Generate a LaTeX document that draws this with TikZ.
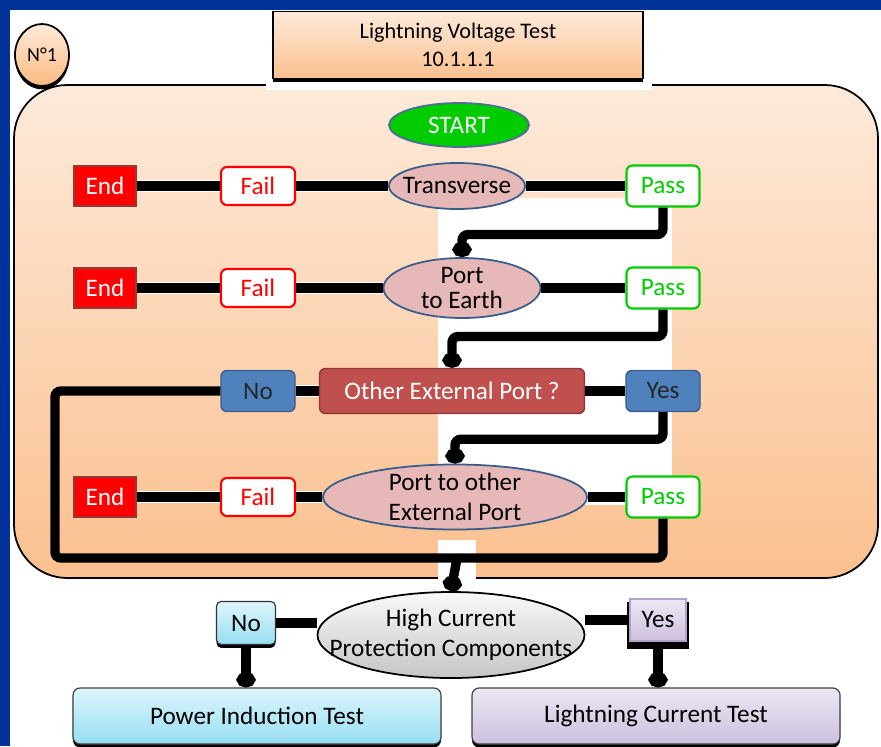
\documentclass[tikz,border=0pt]{standalone}
\usepackage{fontspec}
\setmainfont{Carlito}
\definecolor{slideblue}{RGB}{0,51,153}
\definecolor{peachtop}{RGB}{253,234,218}
\definecolor{peachbot}{RGB}{251,192,143}
\definecolor{startgreen}{RGB}{0,204,0}
\definecolor{startedge}{RGB}{79,108,154}
\definecolor{endred}{RGB}{255,0,0}
\definecolor{endedge}{RGB}{149,55,53}
\definecolor{failred}{RGB}{255,0,0}
\definecolor{passgreen}{RGB}{0,204,0}
\definecolor{ellfill}{RGB}{230,185,184}
\definecolor{elledge}{RGB}{56,93,138}
\definecolor{qblue}{RGB}{79,129,189}
\definecolor{qedge}{RGB}{56,93,138}
\definecolor{qred}{RGB}{192,80,77}
\definecolor{qrededge}{RGB}{140,56,54}
\definecolor{cyantop}{RGB}{222,246,252}
\definecolor{cyanbot}{RGB}{150,222,242}
\definecolor{lavtop}{RGB}{236,231,243}
\definecolor{lavbot}{RGB}{204,192,222}
\definecolor{lavedge}{RGB}{179,162,199}
\usetikzlibrary{arrows.meta,positioning,shapes.geometric,shadows}

\begin{document}
\begin{tikzpicture}[x=0.3mm, y=-0.3mm,
    txt/.style={font=\fontsize{21.5pt}{25pt}\selectfont},
    blackshadow/.style={drop shadow={fill=black, opacity=1, shadow xshift=0pt,
      shadow yshift=-1mm, shadow scale=1}},
    endbox/.style={txt, draw=endedge, line width=2.5pt, fill=endred, text=white,
      minimum width=18.6mm, minimum height=12mm, inner sep=0pt},
    failbox/.style={txt, draw=failred, line width=1.8pt, fill=white, text=failred,
      rounded corners=5pt, minimum width=22.2mm, minimum height=11.4mm, inner sep=0pt},
    passbox/.style={txt, draw=passgreen, line width=1.8pt, fill=white, text=passgreen,
      rounded corners=5pt, minimum width=21.9mm, minimum height=12.3mm, inner sep=0pt},
    testell/.style={txt, ellipse, draw=elledge, line width=1.5pt, fill=ellfill,
      inner sep=0pt, align=center},
    qbox/.style={txt, draw=qedge, line width=1.2pt, fill=qblue, text=black!85,
      rounded corners=5pt, minimum width=22.2mm, minimum height=12.3mm, inner sep=0pt},
    testbox/.style={txt, draw=black!75, line width=1pt, rounded corners=6pt,
      minimum width=110.4mm, minimum height=16.8mm, blackshadow},
    link/.style={line width=8pt, preaction={draw=white, line width=10.5pt}},
    elbow/.style={line width=8pt, rounded corners=5pt},
    arr/.style={elbow, -{Circle[length=13pt, width=16pt]}},
  ]
  \useasboundingbox (0,0) rectangle (881,746);
  \fill[slideblue] (0,0) rectangle (881,746);
  \fill[white] (10,10) rectangle (881,746);

  % panel of the voltage test
  \draw[line width=1.5pt, rounded corners=16mm, top color=peachtop, bottom color=peachbot]
    (14,85) rectangle (878,578);
  \fill[white] (266,10) rectangle (652,90);
  \fill[white] (438,198) rectangle (672,505);
  \fill[white] (438,540) rectangle (476,592);

  \node[ellipse, draw, line width=1.5pt, top color=peachtop, bottom color=peachbot!90!orange,
    minimum width=16.2mm, minimum height=18.6mm, inner sep=0pt, blackshadow,
    font=\fontsize{17pt}{20pt}\selectfont] (num) at (42,55) {N°1};
  \node[draw=black, line width=1pt, top color=peachtop, bottom color=peachbot, align=center,
    minimum width=111mm, minimum height=20mm, blackshadow,
    font=\fontsize{19pt}{24pt}\selectfont] (title) at (458,45)
    {Lightning Voltage Test\\10.1.1.1};
  \node[txt, ellipse, draw=startedge, line width=1.5pt, fill=startgreen, text=white,
    minimum width=42mm, minimum height=13.2mm, inner sep=0pt] (start) at (459,125) {START};

  % first row
  \node[endbox] (end1) at (105,186) {End};
  \node[failbox] (fail1) at (258,186) {Fail};
  \node[testell, minimum width=40.8mm, minimum height=13.8mm, inner xsep=-6pt]
    (trans) at (457,186) {Transverse};
  \node[passbox] (pass1) at (663,186) {Pass};

  % second row
  \node[endbox] (end2) at (105,288) {End};
  \node[failbox] (fail2) at (258,288) {Fail};
  \node[testell, minimum width=47.1mm, minimum height=18mm, inner ysep=-3pt,
    font=\fontsize{21.5pt}{21pt}\selectfont] (earth) at (462,288) {Port\\to Earth};
  \node[passbox] (pass2) at (663,288) {Pass};

  % third row
  \node[qbox] (no1) at (258,391) {No};
  \node[txt, draw=qrededge, line width=1.2pt, fill=qred, text=white, rounded corners=5pt,
    minimum width=79.5mm, minimum height=13.5mm, inner sep=0pt] (other) at (452,391)
    {Other External Port ?};
  \node[qbox] (yes1) at (663,391) {Yes};

  % fourth row
  \node[endbox] (end3) at (105,497) {End};
  \node[failbox] (fail3) at (258,497) {Fail};
  \node[testell, minimum width=79.2mm, minimum height=19.5mm, inner ysep=-4.5pt,
    font=\fontsize{21.5pt}{26pt}\selectfont] (ext) at (455,497) {Port to other\\External Port};
  \node[passbox] (pass3) at (663,497) {Pass};

  % current part
  \node[txt, ellipse, draw, line width=1.5pt, top color=gray!5, bottom color=gray!45,
    minimum width=80.1mm, minimum height=25.8mm, inner xsep=-24pt, inner ysep=0pt,
    align=center, font=\fontsize{21.5pt}{26pt}\selectfont] (hcpc) at (451,635)
    {High Current\\Protection Components};
  \node[txt, draw=black!80, line width=1pt, top color=cyantop, bottom color=cyanbot,
    rounded corners=4pt, minimum width=17.7mm, minimum height=12.9mm, inner sep=0pt,
    blackshadow] (no2) at (246,623) {No};
  \node[txt, draw=lavedge, line width=1pt, top color=lavtop, bottom color=lavbot,
    minimum width=16.8mm, minimum height=12.6mm, inner sep=0pt,
    drop shadow={fill=black, opacity=1, shadow xshift=0pt, shadow yshift=-1.4mm,
      shadow scale=1.12}] (yes2) at (658,620) {Yes};
  \node[testbox, top color=cyantop, bottom color=cyanbot] (pit) at (257,716)
    {Power Induction Test};
  \node[testbox, top color=lavtop, bottom color=lavbot] (lct) at (656,716)
    {Lightning Current Test};

  \coordinate (merge) at (457,558);
  \coordinate (loopleft) at (55,558);

  \draw[link] (end1) -- (fail1);
  \draw[link] (fail1) -- (trans);
  \draw[link] (trans) -- (pass1);
  \draw[link] (end2) -- (fail2);
  \draw[link] (fail2) -- (earth);
  \draw[link] (earth) -- (pass2);
  \draw[link] (no1) -- (other);
  \draw[link] (other) -- (yes1);
  \draw[link] (end3) -- (fail3);
  \draw[link] (fail3) -- (ext);
  \draw[link] (ext) -- (pass3);

  \draw[arr] (pass1.south) -- ++(0,27) -| (earth.north);
  \draw[arr] (pass2.south) -- ++(0,27) -| (other.north);
  \draw[arr] (yes1.south) -- ++(0,27) -| (ext.north);
  \draw[elbow] (no1.west) -| (loopleft) -- (merge);
  \draw[elbow] (pass3.south) |- (merge);
  \draw[arr] (merge) -- (hcpc.north);

  \draw[line width=8pt] (no2.east) -- (hcpc.west |- no2.east);
  \draw[line width=8pt] (hcpc.east |- yes2.west) -- (yes2.west);
  \draw[arr] ([yshift=-1mm]no2.south) -- (pit.north -| no2.south);
  \draw[arr] ([yshift=-1.6mm]yes2.south) -- (lct.north -| yes2.south);
\end{tikzpicture}
\end{document}
